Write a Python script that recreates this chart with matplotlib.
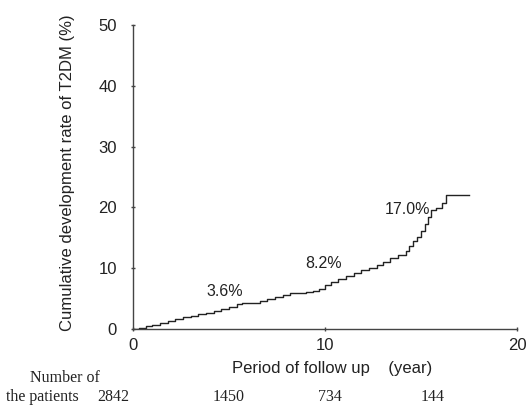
import matplotlib
matplotlib.use("Agg")
import matplotlib.pyplot as plt

# Data
times = [0, 0.3, 0.7, 1.0, 1.4, 1.8, 2.2, 2.6, 3.0, 3.4,
         3.8, 4.2, 4.6, 5.0, 5.4, 5.7, 6.2, 6.6, 7.0, 7.4,
         7.8, 8.2, 8.6, 9.0, 9.4, 9.7, 10.0, 10.3, 10.7, 11.1,
         11.5, 11.9, 12.3, 12.7, 13.0, 13.4, 13.8, 14.2, 14.4, 14.6,
         14.8, 15.0, 15.2, 15.35, 15.5, 15.8, 16.1, 16.3, 17.5]
rates = [0, 0.2, 0.5, 0.7, 1.0, 1.3, 1.6, 1.9, 2.1, 2.4,
         2.7, 3.0, 3.3, 3.7, 4.1, 4.3, 4.3, 4.6, 4.9, 5.3,
         5.6, 5.9, 6.0, 6.1, 6.3, 6.6, 7.3, 7.7, 8.2, 8.7,
         9.2, 9.7, 10.1, 10.5, 11.0, 11.6, 12.2, 12.9, 13.6, 14.4,
         15.2, 16.2, 17.3, 18.5, 19.6, 19.9, 20.7, 22.0, 22.0]

annot_labels = ["3.6%", "8.2%", "17.0%"]
annot_x = [4.8, 9.9, 14.3]
annot_y = [6.1, 10.8, 19.7]

x_ticks = [0, 10, 20]
y_ticks = [0, 10, 20, 30, 40, 50]

risk_counts = ["2842", "1450", "734", "144"]

plt.rcParams['font.family'] = ['Liberation Sans', 'DejaVu Sans']

W, H = 530, 409
fig = plt.figure(figsize=(5.3, 4.09), dpi=100)
ax = fig.add_axes([133 / W, 1 - 329 / H, 384 / W, 304 / H])

ax.plot(times, rates, drawstyle='steps-post', color='#222222', lw=1.0)

for lab, xx, yy in zip(annot_labels, annot_x, annot_y):
    ax.text(xx, yy, lab, ha='center', va='center', fontsize=11.5, color='#222222')

ax.set_xlim(0, 20)
ax.set_ylim(0, 50)
ax.set_xticks(x_ticks)
ax.set_yticks(y_ticks)
ax.tick_params(axis='both', direction='inout', length=3, width=1, colors='#444444',
               labelsize=12, labelcolor='#222222')
ax.tick_params(axis='y', pad=10)
ax.tick_params(axis='x', pad=5)
for s in ['top', 'right']:
    ax.spines[s].set_visible(False)
for s in ['left', 'bottom']:
    ax.spines[s].set_color('#444444')
    ax.spines[s].set_linewidth(1.0)

ax.set_xlabel("Period of follow up    (year)", fontsize=12, color='#222222')
ax.xaxis.set_label_coords((332 - 133) / 384, -(368 - 329) / 304)
ax.xaxis.label.set_va('center')
ax.set_ylabel("Cumulative development rate of T2DM (%)", fontsize=12, color='#222222')
ax.yaxis.set_label_coords(-(133 - 68) / 384, (329 - 173) / 304)
ax.yaxis.label.set_va('center')

# Number at risk row
serif = ['Liberation Serif', 'DejaVu Serif']
fig.text(65 / W, 1 - 378 / H, "Number of", family=serif, fontsize=11.5,
         ha='center', va='center', color='#222222')
fig.text(42 / W, 1 - 397 / H, "the patients", family=serif, fontsize=11.5,
         ha='center', va='center', color='#222222')
for lab, px in zip(risk_counts, [113, 229, 330, 433]):
    fig.text(px / W, 1 - 397 / H, lab, family=serif, fontsize=11.5,
             ha='center', va='center', color='#222222')

fig.savefig("out.png", dpi=100)
